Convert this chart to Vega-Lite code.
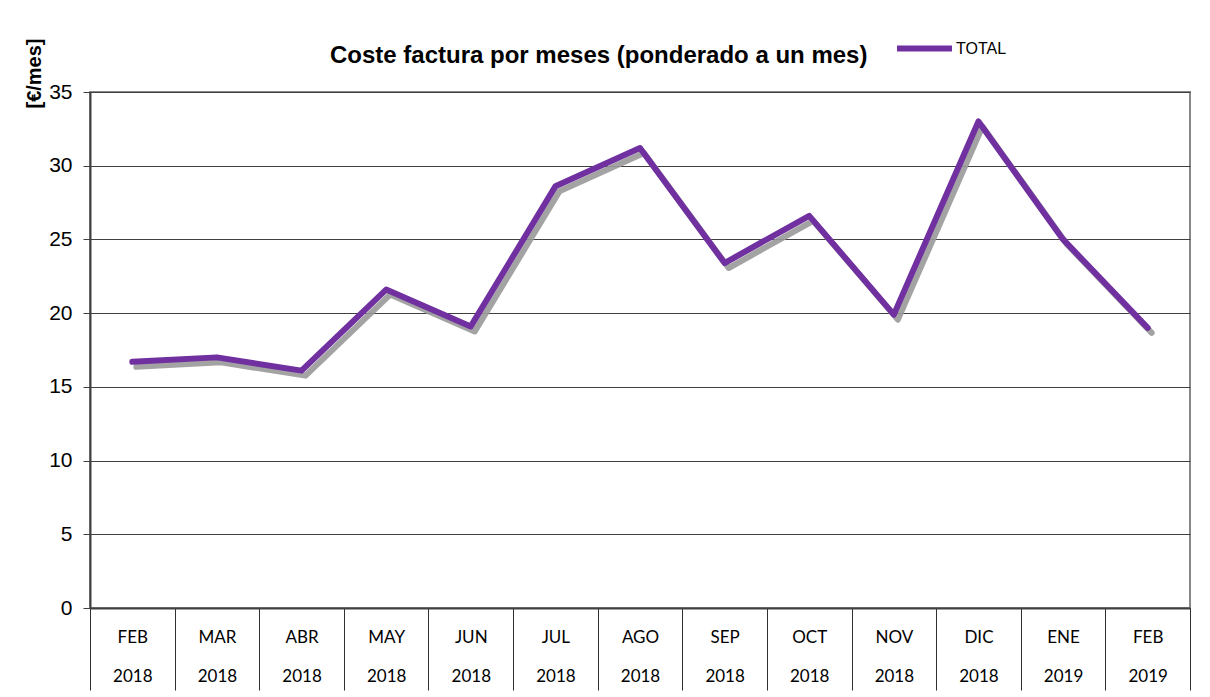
{
  "$schema": "https://vega.github.io/schema/vega-lite/v6.json",
  "autosize": {"type": "none"},
  "width": 1100,
  "height": 516,
  "padding": {"left": 90, "top": 92, "right": 20, "bottom": 89},
  "background": "white",
  "title": {
    "text": "Coste factura por meses (ponderado a un mes)",
    "font": "Liberation Sans",
    "fontSize": 24,
    "fontWeight": "bold",
    "color": "black",
    "anchor": "start",
    "frame": "group",
    "dx": 240,
    "dy": 22,
    "baseline": "alphabetic",
    "offset": -47
  },
  "config": {
    "view": {"stroke": "#888888", "strokeWidth": 2},
    "axis": {"labelFont": "Liberation Sans", "titleFont": "Liberation Sans"}
  },
  "data": {
    "values": [
      {"mes": "FEB 2018", "valor": 16.7, "serie": "TOTAL"},
      {"mes": "MAR 2018", "valor": 17.0, "serie": "TOTAL"},
      {"mes": "ABR 2018", "valor": 16.1, "serie": "TOTAL"},
      {"mes": "MAY 2018", "valor": 21.6, "serie": "TOTAL"},
      {"mes": "JUN 2018", "valor": 19.1, "serie": "TOTAL"},
      {"mes": "JUL 2018", "valor": 28.6, "serie": "TOTAL"},
      {"mes": "AGO 2018", "valor": 31.2, "serie": "TOTAL"},
      {"mes": "SEP 2018", "valor": 23.4, "serie": "TOTAL"},
      {"mes": "OCT 2018", "valor": 26.6, "serie": "TOTAL"},
      {"mes": "NOV 2018", "valor": 19.9, "serie": "TOTAL"},
      {"mes": "DIC 2018", "valor": 33.0, "serie": "TOTAL"},
      {"mes": "ENE 2019", "valor": 25.0, "serie": "TOTAL"},
      {"mes": "FEB 2019", "valor": 19.0, "serie": "TOTAL"}
    ]
  },
  "encoding": {
    "x": {
      "field": "mes",
      "type": "nominal",
      "sort": null,
      "scale": {"paddingInner": 0, "paddingOuter": 0},
      "axis": {
        "title": null,
        "labelAngle": 0,
        "labelExpr": "split(datum.label, ' ')",
        "labelFont": "Lato",
        "labelFontSize": 17,
        "labelColor": "black",
        "labelLineHeight": 39,
        "labelBaseline": "top",
        "labelPadding": -61,
        "tickBand": "extent",
        "tickSize": 82,
        "tickColor": "#303030",
        "tickWidth": 1,
        "domainColor": "#404040",
        "domainWidth": 2,
        "grid": false
      }
    },
    "y": {
      "field": "valor",
      "type": "quantitative",
      "scale": {"domain": [0, 35], "nice": false},
      "axis": {
        "values": [0, 5, 10, 15, 20, 25, 30, 35],
        "title": "[€/mes]",
        "titleFont": "Liberation Sans",
        "titleFontSize": 20,
        "titleFontWeight": "bold",
        "titleColor": "black",
        "titleAngle": -90,
        "titleX": -56,
        "titleY": -19,
        "titleAlign": "center",
        "titleBaseline": "middle",
        "labelFontSize": 21,
        "labelColor": "black",
        "labelPadding": 11,
        "tickSize": 7,
        "tickColor": "#404040",
        "domainColor": "#404040",
        "domainWidth": 2,
        "grid": true,
        "gridColor": "#404040",
        "gridWidth": 1
      }
    }
  },
  "layer": [
    {
      "mark": {
        "type": "line",
        "stroke": "#999999",
        "strokeWidth": 6,
        "strokeCap": "round",
        "strokeJoin": "round",
        "xOffset": 4,
        "yOffset": 5,
        "opacity": 0.9
      }
    },
    {
      "mark": {
        "type": "line",
        "strokeWidth": 6,
        "strokeCap": "round",
        "strokeJoin": "round"
      },
      "encoding": {
        "color": {
          "field": "serie",
          "type": "nominal",
          "scale": {"range": ["#7030A0"]},
          "legend": {
            "title": null,
            "orient": "none",
            "legendX": 804,
            "legendY": -74,
            "padding": 0,
            "symbolType": "stroke",
            "symbolSize": 3025,
            "symbolStrokeWidth": 6,
            "labelFont": "Liberation Sans",
            "labelFontSize": 16,
            "labelColor": "black",
            "labelOffset": 1
          }
        }
      }
    }
  ]
}
